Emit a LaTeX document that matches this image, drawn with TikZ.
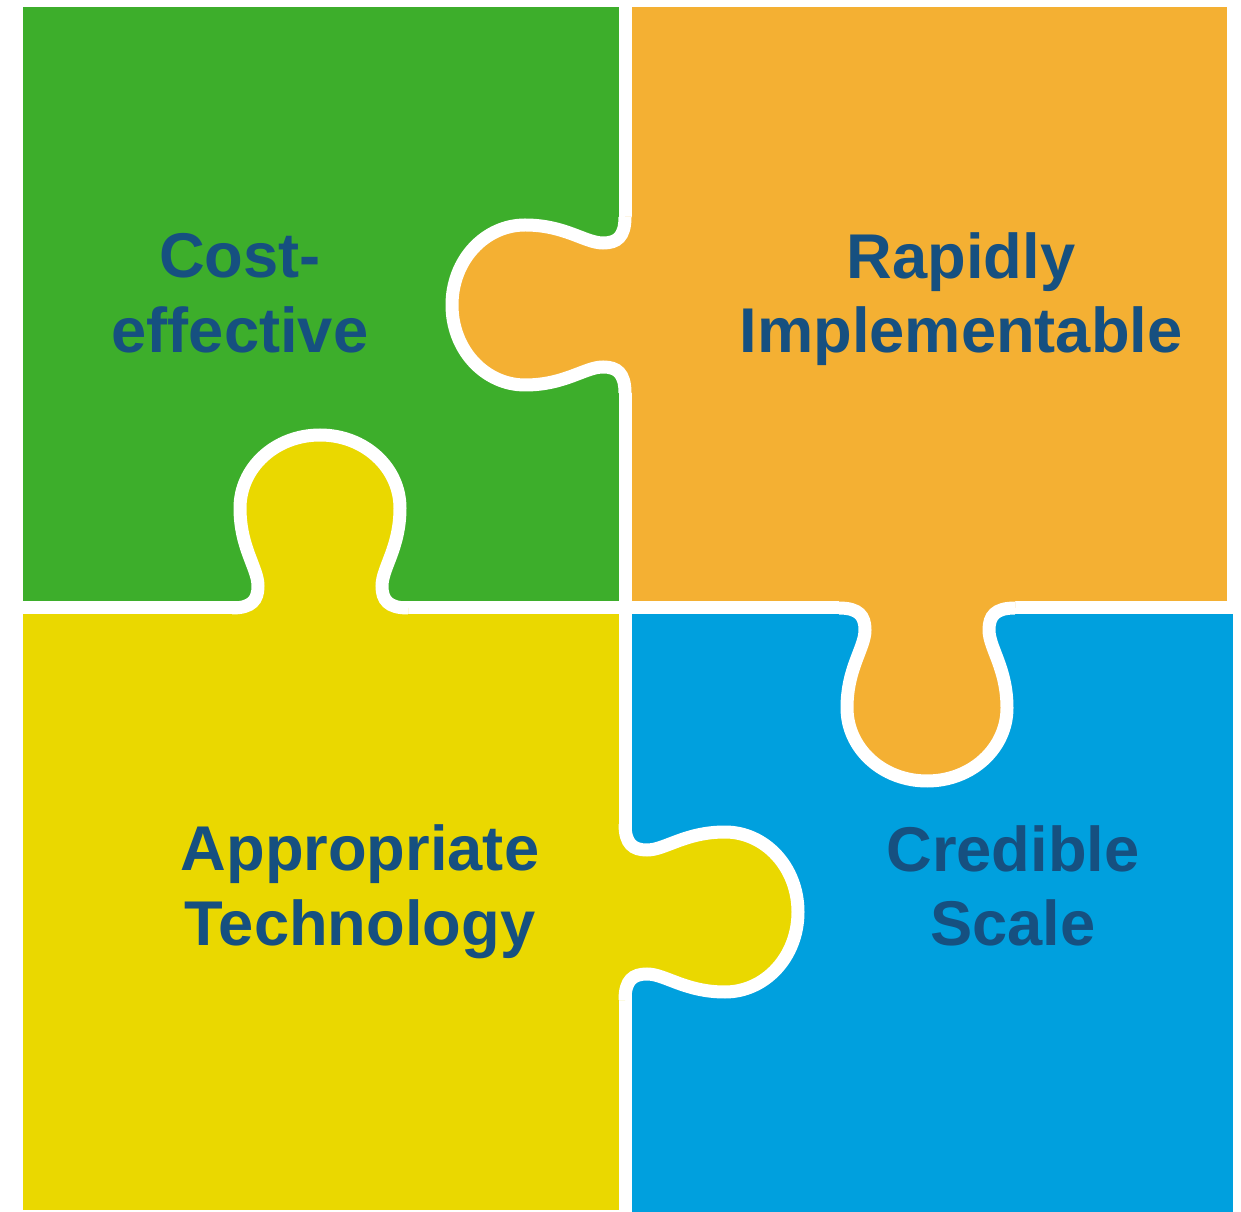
\documentclass[tikz,border=0pt]{standalone}
\usepackage{fontspec}
\setmainfont{Liberation Sans}
\usepackage{tikz}
\usetikzlibrary{positioning}
\usepackage{xcolor}
\definecolor{pzgreen}{RGB}{61,174,43}
\definecolor{pzorange}{RGB}{244,176,51}
\definecolor{pzyellow}{RGB}{234,216,0}
\definecolor{pzblue}{RGB}{0,160,222}
\definecolor{pztext}{RGB}{22,80,128}

% one puzzle tab, base on u=0, bulging towards +u
\newcommand{\tabpath}{(0,-88) .. controls (0,-68) and (8,-62) .. (22,-62)
  .. controls (40,-62) and (60,-80) .. (100,-80)
  .. controls (140,-80) and (173,-45) .. (173,0)
  .. controls (173,45) and (140,80) .. (100,80)
  .. controls (60,80) and (40,62) .. (22,62)
  .. controls (8,62) and (0,68) .. (0,88)}

\begin{document}
\begin{tikzpicture}[x=0.02cm,y=-0.02cm,
    seam/.style={draw=white,line width=0.26cm},
    piece label/.style={font=\bfseries\fontsize{36}{42.5}\selectfont,
        text=pztext,align=center,inner sep=0pt}]

  \useasboundingbox (0,0) rectangle (1241,1212);

  \fill[pzgreen] (23,7) rectangle (625,608);
  \fill[pzorange] (625,7) rectangle (1227,608);
  \fill[pzyellow] (23,608) rectangle (625,1210);
  \fill[pzblue] (625,608) rectangle (1233,1212);

  % white gaps between the pieces
  \draw[seam] (625,0) -- (625,1212);
  \draw[seam] (0,608) -- (1241,608);

  % orange tab into green
  \begin{scope}[shift={(625,305)},x={(-0.02cm,0)},y={(0,-0.02cm)}]
    \fill[pzorange] \tabpath -- (-8,88) -- (-8,-88) -- cycle;
    \draw[seam] \tabpath;
  \end{scope}
  % yellow tab into green
  \begin{scope}[shift={(320,608)},x={(0,0.02cm)},y={(0.02cm,0)}]
    \fill[pzyellow] \tabpath -- (-8,88) -- (-8,-88) -- cycle;
    \draw[seam] \tabpath;
  \end{scope}
  % orange tab into blue
  \begin{scope}[shift={(927,608)},x={(0,-0.02cm)},y={(0.02cm,0)}]
    \fill[pzorange] \tabpath -- (-8,88) -- (-8,-88) -- cycle;
    \draw[seam] \tabpath;
  \end{scope}
  % yellow tab into blue
  \begin{scope}[shift={(625,912)},x={(0.02cm,0)},y={(0,-0.02cm)}]
    \fill[pzyellow] \tabpath -- (-8,88) -- (-8,-88) -- cycle;
    \draw[seam] \tabpath;
  \end{scope}

  \node[piece label] (cost) at (240,293) {Cost-\\effective};
  \node[piece label] (rapid) at (961,299) {Rapidly\\Implementable};
  \node[piece label] (tech) at (360,892) {Appropriate\\Technology};
  \node[piece label] (scale) at (1013,886) {Credible\\Scale};

\end{tikzpicture}
\end{document}
